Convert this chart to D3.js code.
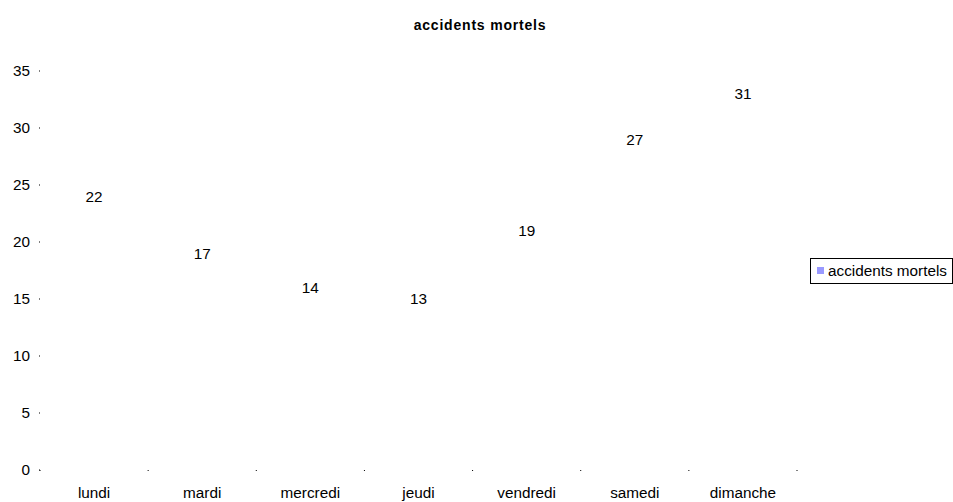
<!DOCTYPE html>
<html><head><meta charset="utf-8">
<script src="https://cdn.jsdelivr.net/npm/d3@7"></script>
<style>body{margin:0;background:#fff;} svg{display:block;font-family:"Liberation Sans",Arial,sans-serif;}</style>
</head><body><svg id="c" width="953" height="502"></svg>
<script>
const categories = ["lundi","mardi","mercredi","jeudi","vendredi","samedi","dimanche"];
const values = [22,17,14,13,19,27,31];
const yTicks = [0,5,10,15,20,25,30,35];
const seriesName = "accidents mortels";
const title = "accidents mortels";

const svg = d3.select("#c");
const pLeft = 40, pRight = 797, pTop = 71, pBottom = 470;
const fs = 15.3;
const x = d3.scaleBand().domain(categories).range([pLeft, pRight]).paddingInner(0.5).paddingOuter(0.25);
const y = d3.scaleLinear().domain([0,35]).range([pBottom, pTop]);

svg.append("text").attr("x",480).attr("y",30).attr("text-anchor","middle")
  .attr("font-size",14).attr("font-weight","bold").attr("letter-spacing",0.8).attr("fill","#000").text(title);

// y tick dots + labels
const yg = svg.append("g");
yTicks.forEach(t=>{
  yg.append("rect").attr("x",pLeft-1).attr("y",y(t)-0.5).attr("width",1).attr("height",1).attr("fill","#000");
  yg.append("text").attr("x",30).attr("y",y(t)).attr("dy","0.35em").attr("text-anchor","end")
    .attr("font-size",fs).attr("fill","#000").text(t);
});

// x category boundary dots
const step = (pRight-pLeft)/categories.length;
d3.range(categories.length+1).forEach(i=>{
  svg.append("rect").attr("x",pLeft+i*step-0.5).attr("y",pBottom).attr("width",1).attr("height",1).attr("fill","#000");
});
categories.forEach(c=>{
  svg.append("text").attr("x",x(c)+x.bandwidth()/2).attr("y",493).attr("dy","0.35em")
    .attr("text-anchor","middle").attr("font-size",fs).attr("fill","#000").text(c);
});

// bars (invisible, no fill as in reference)
svg.append("g").selectAll("rect").data(values).join("rect")
  .attr("x",(d,i)=>x(categories[i])).attr("width",x.bandwidth())
  .attr("y",d=>y(d)).attr("height",d=>y(0)-y(d)).attr("fill","none");

// data labels
svg.append("g").selectAll("text").data(values).join("text")
  .attr("x",(d,i)=>x(categories[i])+x.bandwidth()/2).attr("y",d=>y(d)-23).attr("dy","0.35em")
  .attr("text-anchor","middle").attr("font-size",fs).attr("fill","#000").text(d=>d);

// legend
const lg = svg.append("g");
lg.append("rect").attr("x",810.5).attr("y",258.5).attr("width",142).attr("height",25)
  .attr("fill","#fff").attr("stroke","#000").attr("stroke-width",1);
lg.append("rect").attr("x",817).attr("y",267).attr("width",7).attr("height",7).attr("fill","#9999FF");
lg.append("text").attr("x",828).attr("y",271).attr("dy","0.35em").attr("font-size",fs).attr("fill","#000").text(seriesName);
</script></body></html>
